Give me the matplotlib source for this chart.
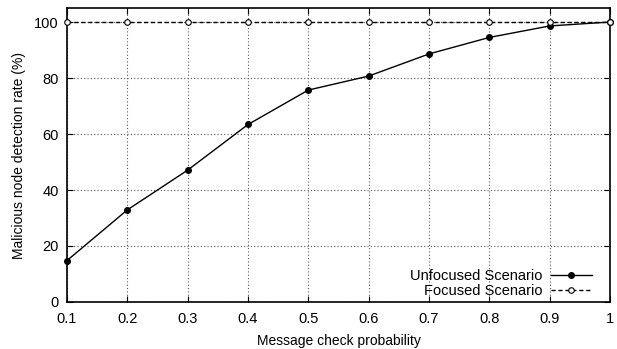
import matplotlib
matplotlib.use("Agg")
import matplotlib.pyplot as plt

prob = [0.1, 0.2, 0.3, 0.4, 0.5, 0.6, 0.7, 0.8, 0.9, 1.0]
unfocused = [14.8, 32.9, 47.1, 63.4, 75.7, 80.7, 88.6, 94.5, 98.6, 100.0]
focused = [100, 100, 100, 100, 100, 100, 100, 100, 100, 100]
xticks = [0.1, 0.2, 0.3, 0.4, 0.5, 0.6, 0.7, 0.8, 0.9, 1.0]
xticklabels = ["0.1", "0.2", "0.3", "0.4", "0.5", "0.6", "0.7", "0.8", "0.9", "1"]
yticks = [0, 20, 40, 60, 80, 100]

plt.rcParams['font.family'] = ['Liberation Sans', 'DejaVu Sans']
plt.rcParams['font.size'] = 10

fig = plt.figure(figsize=(6.17, 3.49), dpi=100)
ax = fig.add_axes([0.1086, 0.1347, 0.8801, 0.8423])

ax.plot(prob, unfocused, color='black', lw=1, marker='o', ms=4,
        markerfacecolor='black', label='Unfocused Scenario', clip_on=False, zorder=3)
ax.plot(prob, focused, color='black', lw=1, ls=(0, (3, 2)), marker='o', ms=4,
        markerfacecolor='white', markeredgewidth=0.8, label='Focused Scenario',
        clip_on=False, zorder=3)

ax.set_xlim(0.1, 1.0)
ax.set_ylim(0, 105)
ax.set_xticks(xticks)
ax.set_xticklabels(xticklabels)
ax.set_yticks(yticks)
ax.grid(True, ls=(0, (1, 2)), color='#555555', lw=0.8)
ax.tick_params(direction='in', top=True, right=True, length=4, labelsize=10.5)
ax.tick_params(axis='x', pad=7)
ax.tick_params(axis='y', pad=6)
for s in ax.spines.values():
    s.set_linewidth(1.2)

ax.set_xlabel('Message check probability', fontsize=10, labelpad=6)
ax.set_ylabel('Malicious node detection rate (%)', fontsize=10, labelpad=6)

leg = ax.legend(loc='lower right', bbox_to_anchor=(0.977, -0.005), frameon=False,
                markerfirst=False, handlelength=2.8, borderaxespad=0.2,
                borderpad=0.2, labelspacing=0.05, handletextpad=0.6, fontsize=10.5)

fig.savefig('out.png', dpi=100)
